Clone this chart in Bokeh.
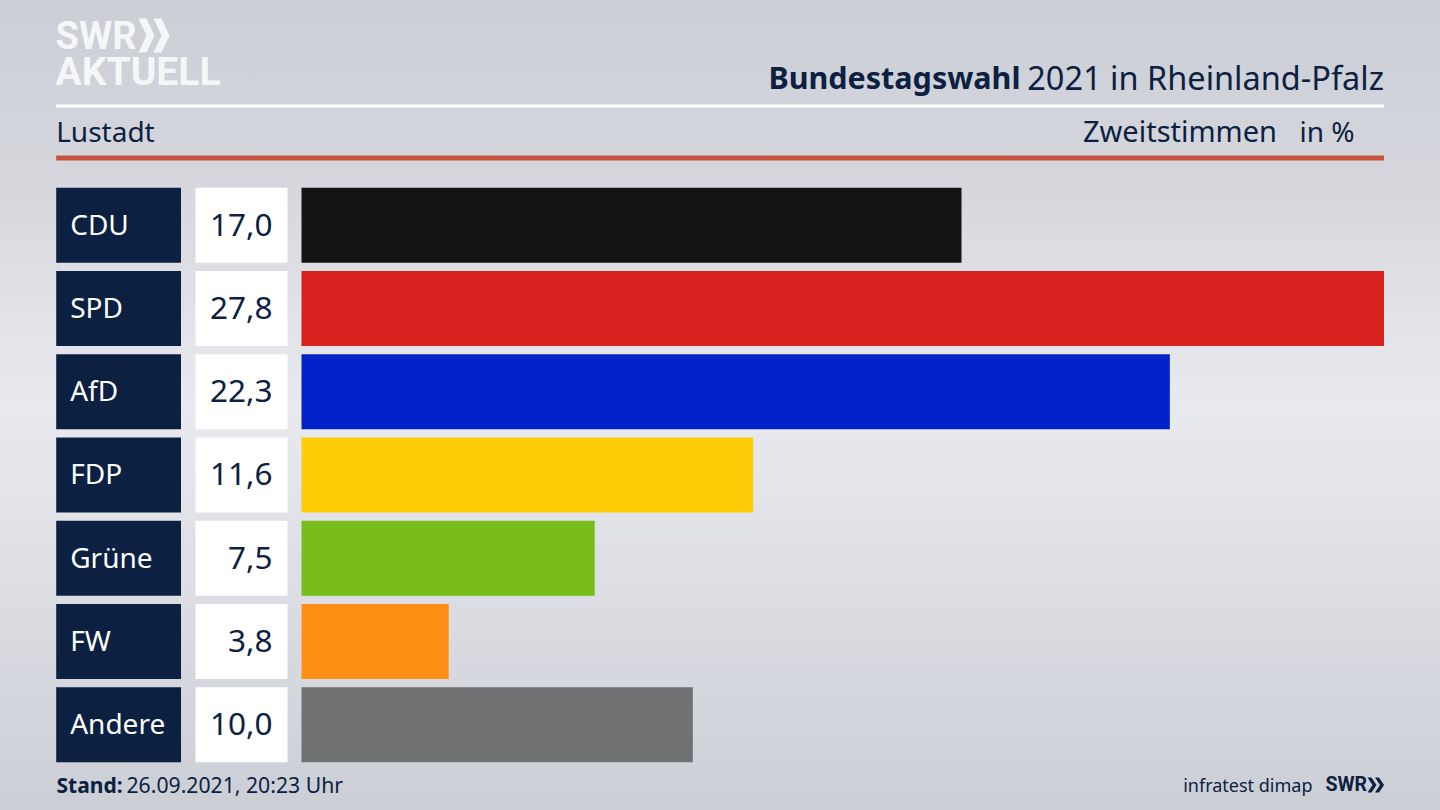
from bokeh.core.properties import value
from bokeh.embed import file_html
from bokeh.resources import INLINE
from bokeh.models import ColumnDataSource, Range1d, GlobalInlineStyleSheet
from bokeh.plotting import figure

parties = ["CDU", "SPD", "AfD", "FDP", "Grüne", "FW", "Andere"]
values = [16.95, 27.8, 22.3, 11.6, 7.53, 3.78, 10.05]
value_labels = ["17,0", "27,8", "22,3", "11,6", "7,5", "3,8", "10,0"]
colors = ["#141414", "#d8201f", "#0022c8", "#ffcd08", "#78bd1b", "#ff8f14", "#707173"]
rows = list(range(len(parties)))

NAVY = "#0c2141"
FONT = "Noto Sans"
W, H = 1440, 810
BAR_LEFT, BAR_RIGHT = 301, 1383.5
PITCH, FIRST = 83.25, 224.7
PX_PER_UNIT = (BAR_RIGHT - BAR_LEFT) / max(values)
BASE_SHIFT = 0.42

p = figure(
    width=W, height=H, output_backend="svg", toolbar_location=None,
    x_range=Range1d(-BAR_LEFT / PX_PER_UNIT, (W - BAR_LEFT) / PX_PER_UNIT),
    y_range=Range1d((H - FIRST) / PITCH, -FIRST / PITCH),
    min_border=0, min_border_left=0, min_border_right=0, min_border_top=0, min_border_bottom=0,
    background_fill_color=None, border_fill_color=None, outline_line_color=None,
    x_axis_type=None, y_axis_type=None,
)
p.grid.visible = False
p.extra_x_ranges["px"] = Range1d(0, W)
p.extra_y_ranges["px"] = Range1d(H, 0)
p.stylesheets = [GlobalInlineStyleSheet(css=(
    "html{min-height:100%;background:linear-gradient(180deg,#cbced5 0%,#d5d7dd 22%,"
    "#e9eaef 50%,#d9dbe1 78%,#cbced5 100%) fixed;}"
    "body{background:transparent;}"
))]

src = ColumnDataSource(dict(
    row=rows, party=parties, value=values, color=colors, label=value_labels,
    pl=[55.7] * 7, pr=[180.5] * 7, vl=[195] * 7, vr=[287] * 7, tx=[69.7] * 7, vx=[272] * 7,
))

# data bars
p.hbar(y="row", left=0, right="value", height=0.9, fill_color="color", line_color=None, source=src)
# party and value boxes
p.hbar(y="row", left="pl", right="pr", height=0.9, fill_color=NAVY, line_color=None, source=src, x_range_name="px")
p.hbar(y="row", left="vl", right="vr", height=0.9, fill_color="#ffffff", line_color=None, source=src, x_range_name="px")
p.text(x="tx", y="row", text="party", source=src, x_range_name="px", text_color="#ffffff", y_offset=-1.5,
       text_font=value(FONT), text_font_size="28px", text_baseline="middle", text_align="left")
p.text(x="vx", y="row", text="label", source=src, x_range_name="px", text_color=NAVY, y_offset=-0.5,
       text_font=value(FONT), text_font_size="31.5px", text_baseline="middle", text_align="right")


def txt(x, y, s, size, color=NAVY, style="normal", align="left", font=FONT):
    p.text(x=[x], y=[y - BASE_SHIFT * size], text=[s], x_range_name="px", y_range_name="px", text_color=color,
           text_font=value(font), text_font_size=f"{size}px", text_font_style=style,
           text_baseline="alphabetic", text_align=align)


def rule(x0, x1, y0, y1, color):
    p.quad(left=[x0], right=[x1], top=[y0], bottom=[y1], fill_color=color, line_color=None,
           x_range_name="px", y_range_name="px")


def chevrons(x0, y0, h, w, t, color, gap):
    for dx in (0, gap):
        xs = [x0 + dx, x0 + dx + t, x0 + dx + t + w, x0 + dx + t, x0 + dx, x0 + dx + w]
        ys = [y0, y0, y0 + h / 2, y0 + h, y0 + h, y0 + h / 2]
        p.patch(xs, ys, color=color, line_color=None, x_range_name="px", y_range_name="px")


# header
rule(55.7, 1383.5, 104, 107, "#ffffff")
rule(55.7, 1383.5, 155, 160, "#c8523d")
txt(1383.5, 90.5, "2021 in Rheinland-Pfalz", 32.5, align="right")
txt(1020, 89, "Bundestagswahl", 30.5, style="bold", align="right")
txt(55.7, 142, "Lustadt", 28)
txt(1276.5, 142, "Zweitstimmen", 29, align="right")
txt(1354, 142, "in %", 28, align="right")

# logo
txt(55, 51, "SWR", 38, color="#f5f6f8", style="bold", font="Roboto")
txt(55, 88, "AKTUELL", 39, color="#f5f6f8", style="bold", font="Roboto")
chevrons(138, 18, 34, 8, 8, "#f5f6f8", 15)

# footer
txt(56, 793, "Stand:", 21, style="bold")
txt(126, 793, "26.09.2021, 20:23 Uhr", 21.2)
txt(1312, 792, "infratest dimap", 18, align="right")
txt(1325, 792.5, "SWR", 19.5, style="bold", font="Roboto")
chevrons(1367, 777, 15, 5, 4, NAVY, 7.5)

open("out.html", "w").write(file_html(p, INLINE))
